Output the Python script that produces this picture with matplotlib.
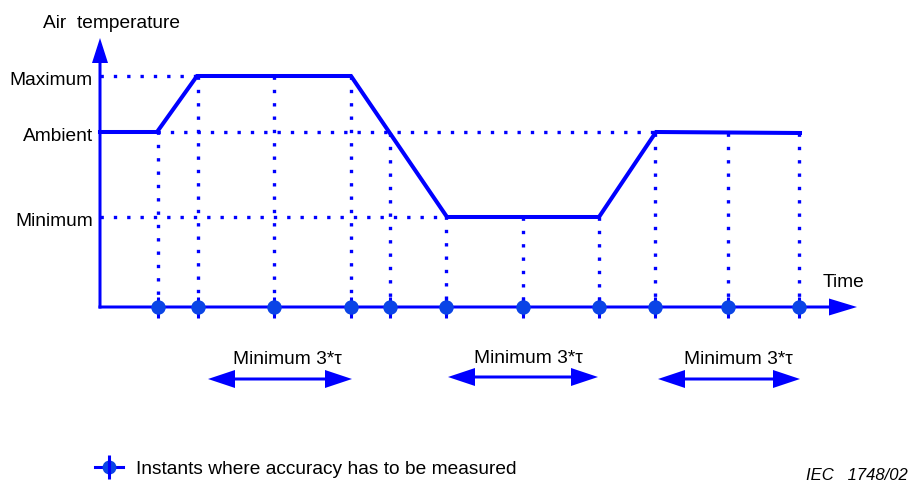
import numpy as np
import matplotlib
matplotlib.use("Agg")
import matplotlib.pyplot as plt
from matplotlib.lines import Line2D
from matplotlib.legend_handler import HandlerTuple

plt.rcParams['font.family'] = ['Liberation Sans', 'DejaVu Sans']

# temperature levels (height above the time axis)
level_names = ["Maximum", "Ambient", "Minimum"]
level_values = [231, 175, 90]

# temperature profile (time, temperature)
profile_t = [0, 57, 97, 251, 347, 499, 556, 700]
profile_T = [175, 175, 231, 231, 90, 90, 175, 174]

# instants where accuracy has to be measured
instants = [58, 98, 174, 251, 290, 346, 423, 499, 555, 628, 699]

# "Minimum 3*tau" intervals
span_start = [108, 348, 558]
span_end = [252, 498, 700]
span_y = [-72, -70, -72]
span_text_x = [187, 428, 638]
span_text_y = [-57, -56, -57]

# dotted guide lines: (level, from, to)
guide_level = [231, 175, 90]
guide_from = [0, 57, 0]
guide_to = [97, 556, 347]

blue = "#0000FF"
mblue = "#0A44E6"
fs = 13.8

fig = plt.figure(figsize=(9.12, 4.84), dpi=100)
ax = fig.add_axes([0, 0, 1, 1])
ax.set_xlim(-100, 812)
ax.set_ylim(-177, 307)
ax.axis("off")

dot = dict(color=blue, lw=2.4, linestyle=(0, (1, 3)), dash_capstyle="butt")

# guides
for lv, a, b in zip(guide_level, guide_from, guide_to):
    ax.plot([a, b], [lv, lv], **dot)
for t in instants:
    top = np.interp(t, profile_t, profile_T)
    ax.plot([t, t], [top, 0], **dot)

# profile
ax.plot(profile_t, profile_T, color=blue, lw=2.9, solid_joinstyle="miter", zorder=3)

# axes arrows
ax.arrow(0, -1.5, 0, 270.5, width=3, head_width=16, head_length=25,
         length_includes_head=True, color=blue, lw=0, zorder=4)
ax.arrow(-1.5, 0, 758.5, 0, width=3, head_width=17, head_length=28,
         length_includes_head=True, color=blue, lw=0, zorder=4)

# instants markers
ax.vlines(instants, -11, 10, color=blue, lw=2.2, zorder=5)
ax.plot(instants, [0] * len(instants), ls="none", marker="o", ms=9.4,
        mfc=mblue, mec=mblue, zorder=6)

# level labels
for name, lv in zip(level_names, level_values):
    ax.text(-7, lv - 9, name, ha="right", va="baseline", fontsize=fs)
ax.text(-57, 279, "Air  temperature", ha="left", va="baseline", fontsize=fs)
ax.text(723, 20, "Time", ha="left", va="baseline", fontsize=fs)

# double arrows
for a, b, y, tx, ty in zip(span_start, span_end, span_y, span_text_x, span_text_y):
    mid = (a + b) / 2
    for end in (a, b):
        ax.arrow(mid, y, end - mid, 0, width=3, head_width=18, head_length=27,
                 length_includes_head=True, color=blue, lw=0)
    ax.text(tx, ty, "Minimum 3*\u03c4", ha="center", va="baseline", fontsize=fs)

# legend
h1 = Line2D([], [], color=blue, lw=2.2, marker="o", ms=9, mfc=mblue, mec=mblue)
h2 = Line2D([], [], color=blue, ls="none", marker="|", ms=17, mew=2.2)
ax.legend([(h1, h2)], ["Instants where accuracy has to be measured"],
          handler_map={tuple: HandlerTuple(ndivide=1)},
          loc="center left", bbox_to_anchor=(95 / 912, 1 - 469 / 484),
          bbox_transform=fig.transFigure, frameon=False, fontsize=fs,
          borderpad=0, borderaxespad=0, handlelength=1.45, handletextpad=0.7)

ax.text(808, -173, "IEC   1748/02", ha="right", va="baseline", fontsize=12,
        style="italic")

fig.savefig("out.png", dpi=100)
